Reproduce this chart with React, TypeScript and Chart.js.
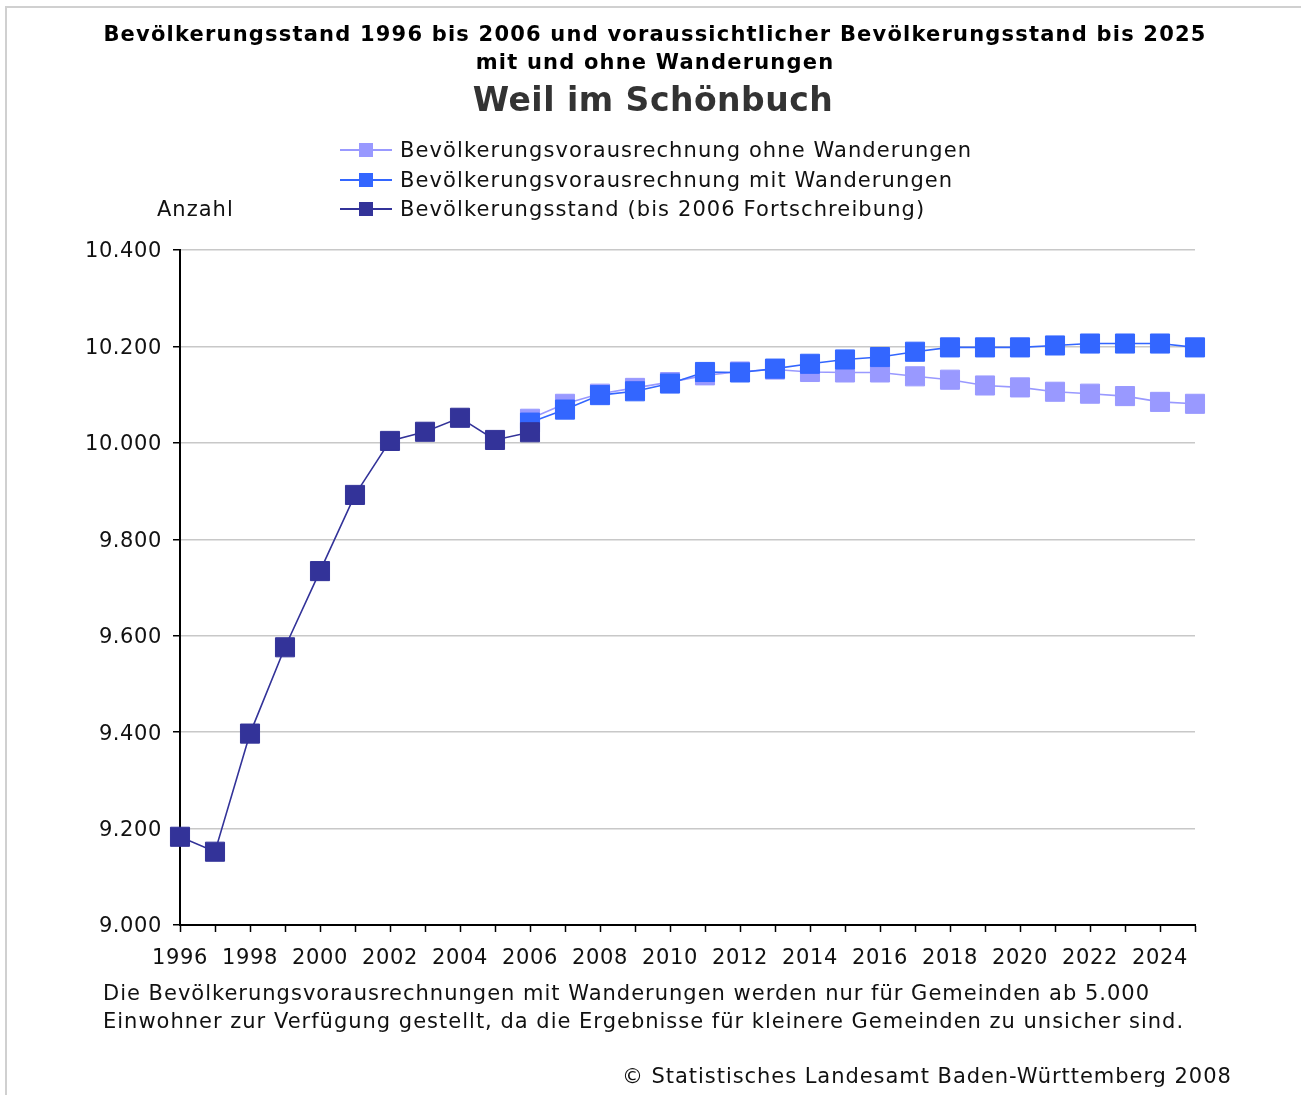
import React, { useEffect, useRef } from "react";
import { Chart, registerables } from "chart.js";

Chart.register(...registerables);

const years = ["1996","1997","1998","1999","2000","2001","2002","2003","2004","2005","2006","2007","2008","2009","2010","2011","2012","2013","2014","2015","2016","2017","2018","2019","2020","2021","2022","2023","2024","2025"];
const xTickLabels = ["1996","","1998","","2000","","2002","","2004","","2006","","2008","","2010","","2012","","2014","","2016","","2018","","2020","","2022","","2024",""];

const bestand = [9183, 9152, 9397, 9576, 9734, 9892, 10004, 10023, 10052, 10006, 10022, null, null, null, null, null, null, null, null, null, null, null, null, null, null, null, null, null, null, null];
const mitWanderungen = [null, null, null, null, null, null, null, null, null, null, 10042, 10069, 10099, 10107, 10123, 10147, 10146, 10154, 10164, 10173, 10178, 10189, 10198, 10198, 10198, 10202, 10206, 10206, 10206, 10198];
const ohneWanderungen = [null, null, null, null, null, null, null, null, null, null, 10050, 10081, 10102, 10114, 10126, 10140, 10148, 10152, 10147, 10146, 10146, 10138, 10131, 10119, 10115, 10106, 10102, 10097, 10085, 10081];

const yMin = 9000;
const yMax = 10400;
const yStep = 200;

const seriesNames = [
  "Bevölkerungsvorausrechnung ohne Wanderungen",
  "Bevölkerungsvorausrechnung mit Wanderungen",
  "Bevölkerungsstand (bis 2006 Fortschreibung)",
];
const seriesColors = ["#9999ff", "#3366ff", "#333399"];

const FONT = "'DejaVu Sans', Verdana, sans-serif";

function fmt(v: number): string {
  const s = String(Math.round(v));
  return s.replace(/\B(?=(\d{3})+(?!\d))/g, ".");
}

const spacingPlugin = {
  id: "spacing",
  beforeDraw: (chart: any) => {
    try { chart.ctx.letterSpacing = "0.6px"; } catch (e) { /* ignore */ }
  },
};

export default function App() {
  const ref = useRef<HTMLCanvasElement | null>(null);

  useEffect(() => {
    const canvas = ref.current!;
    const pt = (color: string) => ({
      borderColor: color,
      backgroundColor: color,
      pointBackgroundColor: color,
      pointBorderColor: color,
      pointStyle: "rect" as const,
      pointRadius: 13.5,
      pointHoverRadius: 13.5,
      pointBorderWidth: 1,
      borderWidth: 1.6,
      tension: 0,
      fill: false,
      spanGaps: false,
    });
    const chart = new Chart(canvas, {
      type: "line",
      data: {
        labels: years,
        datasets: [
          { label: seriesNames[2], data: bestand, ...pt(seriesColors[2]) },
          { label: seriesNames[1], data: mitWanderungen, ...pt(seriesColors[1]) },
          { label: seriesNames[0], data: ohneWanderungen, ...pt(seriesColors[0]) },
        ],
      },
      options: {
        animation: false,
        responsive: false,
        maintainAspectRatio: false,
        devicePixelRatio: 1,
        layout: { padding: { left: 0, right: 106, top: 250, bottom: 120 } },
        plugins: { legend: { display: false }, tooltip: { enabled: false }, title: { display: false } },
        scales: {
          x: {
            type: "category",
            offset: false,
            grid: { display: true, drawOnChartArea: false, drawTicks: true, tickLength: 7, tickColor: "#000", tickWidth: 1.5 },
            border: { display: true, color: "#000", width: 2 },
            ticks: {
              autoSkip: false,
              maxRotation: 0,
              minRotation: 0,
              padding: 14,
              color: "#111",
              font: { family: FONT, size: 21 },
              callback: (_v: any, i: number) => xTickLabels[i],
            },
            afterFit: (s: any) => { s.height = 50; },
          },
          y: {
            min: yMin,
            max: yMax,
            ticks: {
              stepSize: yStep,
              padding: 11,
              labelOffset: 2,
              color: "#111",
              font: { family: FONT, size: 21 },
              callback: (v: any) => fmt(Number(v)),
            },
            grid: { color: "#c8c8c8", lineWidth: 1.5, tickColor: "#000", tickLength: 7, tickWidth: 1.5 },
            border: { display: true, color: "#000", width: 2 },
            afterFit: (s: any) => { s.width = 180; },
          },
        },
      },
      plugins: [spacingPlugin],
    });
    return () => chart.destroy();
  }, []);

  const abs = (l: number, t: number, extra: React.CSSProperties = {}): React.CSSProperties => ({
    position: "absolute", left: l, top: t, whiteSpace: "nowrap", fontFamily: FONT, ...extra,
  });

  const legendRows = [
    { name: seriesNames[0], color: seriesColors[0], y: 150 },
    { name: seriesNames[1], color: seriesColors[1], y: 180 },
    { name: seriesNames[2], color: seriesColors[2], y: 209 },
  ];

  return (
    <div style={{ position: "absolute", left: 0, top: 0, width: 1301, height: 1095, background: "#fff", overflow: "hidden" }}>
      <canvas ref={ref} width={1301} height={1095} style={{ position: "absolute", left: 0, top: 0, display: "block" }} />
      <div style={{ position: "absolute", left: 5, top: 6, width: 1300, height: 1100, borderTop: "2px solid #d0d0d0", borderLeft: "2px solid #d0d0d0", pointerEvents: "none" }} />
      <div style={{ position: "absolute", left: 0, width: 1310, top: 20, textAlign: "center", fontFamily: FONT, fontWeight: "bold", fontSize: 21, lineHeight: "28px", letterSpacing: "1.2px", color: "#000" }}>
        <div>Bevölkerungsstand 1996 bis 2006 und voraussichtlicher Bevölkerungsstand bis 2025</div>
        <div>mit und ohne Wanderungen</div>
      </div>
      <div style={{ position: "absolute", left: 0, width: 1306, top: 79, textAlign: "center", fontFamily: FONT, fontWeight: "bold", fontSize: 33, lineHeight: "42px", letterSpacing: "0.5px", color: "#333" }}>
        Weil im Schönbuch
      </div>
      {legendRows.map((r) => (
        <React.Fragment key={r.name}>
          <div style={{ position: "absolute", left: 340, top: r.y - 1, width: 52, height: 2, background: r.color }} />
          <div style={{ position: "absolute", left: 359, top: r.y - 7, width: 14, height: 14, background: r.color }} />
          <div style={abs(400, r.y - 13, { fontSize: 21, lineHeight: "26px", letterSpacing: "1.1px", color: "#111" })}>{r.name}</div>
        </React.Fragment>
      ))}
      <div style={abs(157, 209 - 13, { fontSize: 21, lineHeight: "26px", letterSpacing: "1px", color: "#111" })}>Anzahl</div>
      <div style={abs(103, 979, { fontSize: 21, lineHeight: "28px", letterSpacing: "1px", color: "#111" })}>
        Die Bevölkerungsvorausrechnungen mit Wanderungen werden nur für Gemeinden ab 5.000<br />
        Einwohner zur Verfügung gestellt, da die Ergebnisse für kleinere Gemeinden zu unsicher sind.
      </div>
      <div style={abs(622, 1063, { fontSize: 21, lineHeight: "26px", letterSpacing: "0.95px", color: "#111" })}>© Statistisches Landesamt Baden-Württemberg 2008</div>
    </div>
  );
}
